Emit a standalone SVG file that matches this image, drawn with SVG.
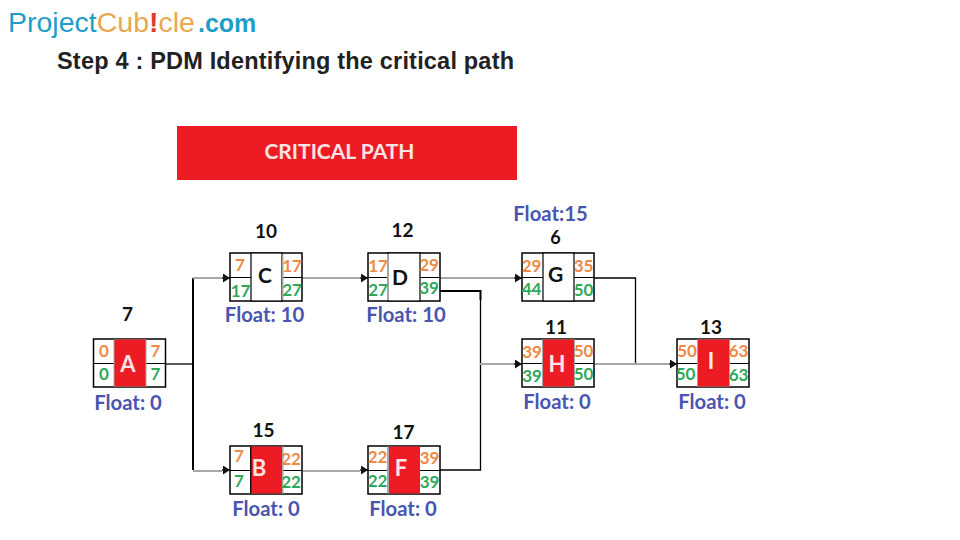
<svg xmlns="http://www.w3.org/2000/svg" width="960" height="540" viewBox="0 0 960 540">
<style>
.t{font-family:"Lato","Liberation Sans",sans-serif;font-weight:700;text-anchor:middle}
.box{fill:#fff;stroke:#000;stroke-width:1.5}
.div{stroke:#000;stroke-width:1.2}
.o{font-size:17px;fill:#ed8a45}
.g{font-size:17px;fill:#2fa85a}
.f{font-size:20.300px;fill:#4a55b0}
.n{font-size:19px;fill:#111}
.l{font-size:21px;fill:#111}
.lw{font-size:22px;fill:#fbe6e6}
.red{fill:#ed1c24}
.sep{fill:#a6a6a6}
.k{fill:none;stroke:#000;stroke-width:1.3}
.kb{fill:none;stroke:#000;stroke-width:2}
.gr{fill:none;stroke:#a8a8a8;stroke-width:2}
</style>
<defs>
<marker id="ah" markerUnits="userSpaceOnUse" markerWidth="8" markerHeight="9" refX="7" refY="4.500" orient="auto"><path d="M0 0L7 4.500L0 9Z" fill="#111"/></marker>
<g id="frame"><rect class="box" width="72" height="48"/><path class="div" d="M0 24.500H72"/></g>
</defs>
<rect width="960" height="540" fill="#fff"/>
<g id="logo" font-family="'Liberation Sans',sans-serif" font-size="28.500"><text x="8" y="32" fill="#1f9dc9">Project<tspan fill="#e8a94f">Cub</tspan><tspan fill="#e23b2e" font-weight="700">!</tspan><tspan fill="#e8a94f">cle</tspan><tspan font-size="25" font-weight="700" dx="3">.com</tspan></text></g>
<text id="title" x="57" y="69" font-family="'Liberation Sans',sans-serif" font-size="23.500" font-weight="700" fill="#222" textLength="457">Step 4 : PDM Identifying the critical path</text>
<g id="banner"><rect x="177" y="126" width="340" height="54" fill="#ed1c24"/><text class="t" x="339.500" y="159" font-size="21" fill="#fbe3e3">CRITICAL PATH</text></g>
<g id="connectors">
<path class="k" d="M165 364H193"/>
<path class="kb" d="M193 278V470"/>
<path class="gr" d="M193 278H222"/><path class="k" d="M222 278H230" marker-end="url(#ah)"/>
<path class="gr" d="M193 471H222"/><path class="k" d="M222 470H230" marker-end="url(#ah)"/>
<path class="gr" d="M302 278H360"/><path class="k" d="M360 278H368" marker-end="url(#ah)"/>
<path class="gr" d="M302 471H360"/><path class="k" d="M360 470H368" marker-end="url(#ah)"/>
<path class="gr" d="M440 278H514"/><path class="k" d="M514 278H522" marker-end="url(#ah)"/>
<path class="kb" d="M440 291H480.500V300"/>
<path class="k" d="M480.500 300V470H440"/>
<path class="gr" d="M480 364H514"/><path class="k" d="M514 364H522" marker-end="url(#ah)"/>
<path class="k" d="M594 278H635.500V364"/>
<path class="gr" d="M594 364H669"/><path class="k" d="M669 364H677" marker-end="url(#ah)"/>
</g>
<g id="node-A" transform="translate(93.500 339)"><use href="#frame"/><rect class="sep" x="20" y="0.500" width="33" height="47"/><rect class="red" x="21" y="0.500" width="31" height="47"/><text class="t n" x="34" y="-18">7</text><text class="t lw" x="34.500" y="33">A</text><text class="t o" x="10.500" y="18">0</text><text class="t g" x="10.500" y="41">0</text><text class="t o" x="62" y="18">7</text><text class="t g" x="62" y="41">7</text><text class="t f" x="34.500" y="71">Float: 0</text></g>
<g id="node-C" transform="translate(230 253)"><use href="#frame"/><rect class="box" x="21" y="0" width="31" height="48" style="stroke-width:1.2"/><rect class="sep" x="52" y="1" width="1.500" height="46"/><text class="t n" x="36" y="-15">10</text><text class="t l" x="35" y="30">C</text><text class="t o" x="10" y="18">7</text><text class="t g" x="10.500" y="44">17</text><text class="t o" x="62" y="19">17</text><text class="t g" x="62" y="43">27</text><text class="t f" x="34.500" y="69">Float: 10</text></g>
<g id="node-D" transform="translate(368 253)"><use href="#frame"/><rect class="box" x="20" y="0" width="32" height="48" style="stroke-width:1.2"/><rect class="sep" x="19" y="1" width="2" height="46"/><text class="t n" x="34.500" y="-16">12</text><text class="t l" x="32" y="32">D</text><text class="t o" x="10" y="19">17</text><text class="t g" x="10" y="43">27</text><text class="t o" x="61" y="18">29</text><text class="t g" x="61" y="41">39</text><text class="t f" x="38" y="69">Float: 10</text></g>
<g id="node-G" transform="translate(522 253)"><use href="#frame"/><rect class="box" x="21" y="0" width="31" height="48" style="stroke-width:1.2"/><text class="t f" x="28.500" y="-32">Float:15</text><text class="t" font-size="18" fill="#111" x="33.500" y="-9.500">6</text><text class="t l" x="33.500" y="29">G</text><text class="t o" x="9.500" y="19">29</text><text class="t g" x="9.500" y="42">44</text><text class="t o" x="61.500" y="19">35</text><text class="t g" x="61.500" y="43">50</text></g>
<g id="node-H" transform="translate(522 339)"><use href="#frame"/><rect class="sep" x="20" y="0.500" width="33" height="47"/><rect class="red" x="21" y="0.500" width="31" height="47"/><text class="t n" x="34" y="-5">11</text><text class="t lw" x="35" y="33">H</text><text class="t o" x="10" y="19">39</text><text class="t g" x="10" y="43">39</text><text class="t o" x="61.500" y="18">50</text><text class="t g" x="61.500" y="41">50</text><text class="t f" x="35" y="70">Float: 0</text></g>
<g id="node-I" transform="translate(677 339)"><use href="#frame"/><rect class="sep" x="20" y="0.500" width="33" height="47"/><rect class="red" x="21" y="0.500" width="31" height="47"/><text class="t n" x="34" y="-5">13</text><text class="t lw" x="34" y="30">I</text><text class="t o" x="10" y="18">50</text><text class="t g" x="8.500" y="41">50</text><text class="t o" x="61.500" y="18">63</text><text class="t g" x="61.500" y="42">63</text><text class="t f" x="35" y="70">Float: 0</text></g>
<g id="node-B" transform="translate(230 446)"><use href="#frame"/><rect class="red" x="21" y="0.500" width="31" height="47"/><rect x="20" y="0.500" width="1.500" height="47" fill="#111"/><rect class="sep" x="52" y="0.500" width="1.500" height="47"/><text class="t n" x="33.500" y="-9">15</text><text class="t lw" x="29" y="30">B</text><text class="t o" x="9" y="16">7</text><text class="t g" x="9" y="41">7</text><text class="t o" x="61" y="19">22</text><text class="t g" x="61" y="42">22</text><text class="t f" x="36" y="70">Float: 0</text></g>
<g id="node-F" transform="translate(368 446)"><use href="#frame"/><rect class="sep" x="19" y="0.500" width="2" height="47"/><rect class="red" x="21" y="0.500" width="31" height="47"/><text class="t n" x="35.500" y="-7">17</text><text class="t lw" x="33" y="30">F</text><text class="t o" x="9.500" y="17">22</text><text class="t g" x="9.500" y="41">22</text><text class="t o" x="61.500" y="18">39</text><text class="t g" x="61.500" y="42">39</text><text class="t f" x="35" y="70">Float: 0</text></g>
</svg>
